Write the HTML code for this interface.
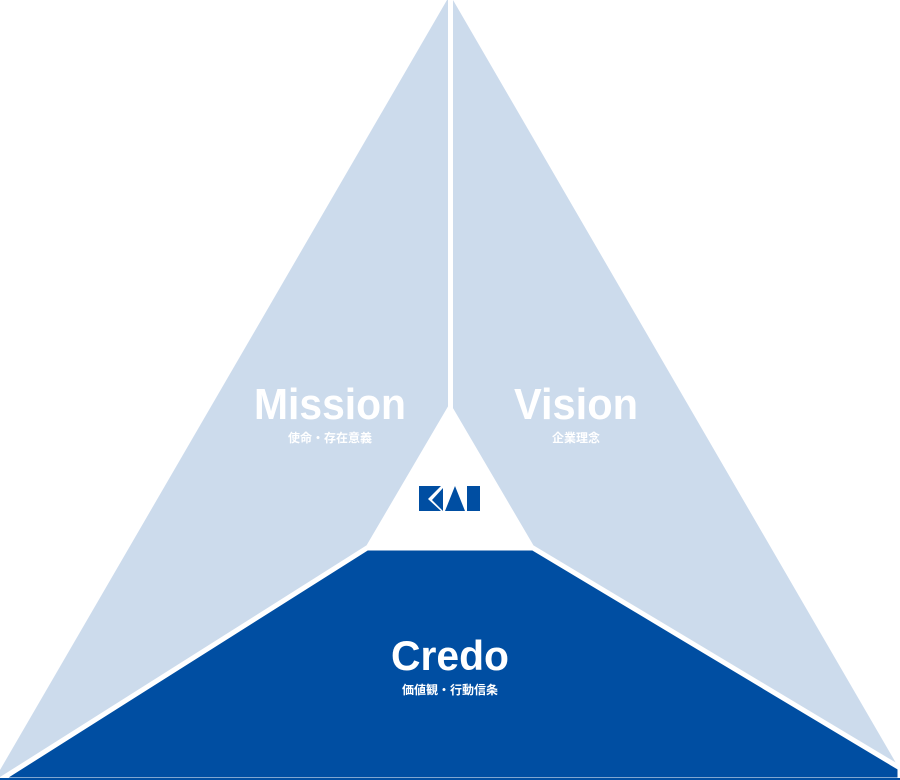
<!DOCTYPE html>
<html><head><meta charset="utf-8"><style>
html,body{margin:0;padding:0;background:#fff;}
svg{display:block}
text{font-family:"Liberation Sans","Noto Sans CJK JP",sans-serif;font-weight:bold;fill:#fff;text-anchor:middle}
</style></head><body>
<svg width="900" height="780" viewBox="0 0 900 780">
<polygon points="447,0 453,0 900,770 900,780 0,780 0,770" fill="#ccdbec"/>
<rect x="448" y="0" width="5" height="408" fill="#fff"/>
<polygon points="450,403 535,548 365,548" fill="#fff"/>
<polygon points="367,548 533,548 900,768 900,780 0,780" fill="#004ea2" stroke="#fff" stroke-width="5" stroke-linejoin="miter"/>
<rect x="0" y="778" width="900" height="2" fill="#004ea2"/>
<text x="330" y="419" font-size="44" textLength="152" lengthAdjust="spacingAndGlyphs">Mission</text>
<text x="330" y="442" font-size="12">使命・存在意義</text>
<text x="576" y="419" font-size="44" textLength="124" lengthAdjust="spacingAndGlyphs">Vision</text>
<text x="576" y="442" font-size="12">企業理念</text>
<text x="450" y="670" font-size="42" textLength="118" lengthAdjust="spacingAndGlyphs">Credo</text>
<text x="450" y="694" font-size="12">価値観・行動信条</text>
<g fill="#004ea2">
<polygon points="419,486 441,486 428,499 441,511 419,511"/>
<polygon points="443,488 443,511 432,500"/>
<polygon points="455,486 465,511 445,511"/>
<rect x="467" y="486" width="13" height="25"/>
</g>
</svg>
</body></html>
